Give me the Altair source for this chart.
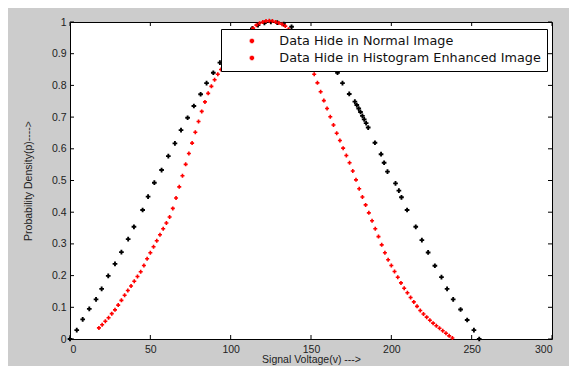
import altair as alt
import pandas as pd

SERIES = ["Data Hide in Normal Image", "Data Hide in Histogram Enhanced Image"]
X_TICKS = [0, 50, 100, 150, 200, 250, 300]
Y_TICKS = [0, 0.1, 0.2, 0.3, 0.4, 0.5, 0.6, 0.7, 0.8, 0.9, 1]

NORMAL_X = [0, 4.2, 7.9, 12, 16.2, 19.7, 23.8, 28, 32, 36.2, 39.8, 45.2, 48.6,
            52.5, 57, 61.2, 65.3, 69.1, 73.2, 77.1, 81.3, 85, 89.2, 93.3,
            97.5, 101.5, 105.5, 109.5, 113.5, 117, 121, 125, 129, 133, 137.9,
            142, 146, 150, 154, 158, 162, 166.5, 169.6, 173.8, 177.3, 178.5,
            179.7, 180.8, 182, 183.1, 184.3, 185.6, 189.8, 193.6, 195.5, 197.6,
            202.6, 204.7, 206.3, 209.8, 215.2, 219, 222.9, 227.1, 231.2, 234.7,
            238.5, 243.1, 247.2, 251.4, 254.7]
NORMAL_Y = [0, 0.028, 0.062, 0.095, 0.125, 0.158, 0.199, 0.237, 0.274, 0.315,
            0.354, 0.407, 0.449, 0.493, 0.533, 0.577, 0.617, 0.659, 0.698,
            0.735, 0.772, 0.807, 0.840, 0.872, 0.900, 0.925, 0.948, 0.966,
            0.980, 0.990, 0.997, 1.0, 0.998, 0.993, 0.985, 0.970, 0.952, 0.930,
            0.905, 0.880, 0.860, 0.840, 0.807, 0.773, 0.749, 0.738, 0.727,
            0.716, 0.704, 0.693, 0.681, 0.667, 0.619, 0.583, 0.556, 0.528,
            0.491, 0.468, 0.447, 0.407, 0.354, 0.312, 0.273, 0.231, 0.195,
            0.158, 0.125, 0.093, 0.060, 0.028, 0.0]

ENH_X = [18, 20, 22, 24, 26, 28, 30, 32, 34, 36, 38, 40, 42, 44, 46, 48, 50,
         52, 54, 56, 58, 60, 62, 64, 66, 68, 70, 72, 74, 76, 78, 80, 82, 84,
         86, 88, 90, 92, 94, 96, 98, 100, 102, 104, 106, 108, 110, 112, 114,
         116, 118, 120, 122, 124, 126, 128, 130, 132, 134, 136, 138, 140, 142,
         144, 146, 148, 150, 152, 154, 156, 158, 160, 162, 164, 166, 168, 170,
         172, 174, 176, 178, 180, 182, 184, 186, 188, 190, 192, 194, 196, 198,
         200, 202, 204, 206, 208, 210, 212, 214, 216, 218, 220, 222, 224, 226,
         228, 230, 232, 234, 236, 238]
ENH_Y = [0.035, 0.045, 0.056, 0.067, 0.080, 0.092, 0.107, 0.122, 0.138, 0.153,
         0.167, 0.182, 0.197, 0.212, 0.232, 0.253, 0.272, 0.291, 0.310, 0.329,
         0.348, 0.366, 0.385, 0.412, 0.445, 0.480, 0.515, 0.551, 0.585, 0.618,
         0.652, 0.686, 0.718, 0.748, 0.775, 0.797, 0.818, 0.835, 0.850, 0.862,
         0.872, 0.884, 0.897, 0.910, 0.925, 0.940, 0.955, 0.968, 0.980, 0.990,
         0.996, 1.0, 1.003, 1.004, 1.003, 1.0, 0.997, 0.993, 0.987, 0.977,
         0.963, 0.947, 0.930, 0.912, 0.893, 0.874, 0.856, 0.835, 0.808, 0.780,
         0.752, 0.727, 0.701, 0.675, 0.649, 0.626, 0.602, 0.579, 0.556, 0.530,
         0.502, 0.474, 0.448, 0.423, 0.398, 0.373, 0.348, 0.323, 0.297, 0.272,
         0.250, 0.232, 0.213, 0.195, 0.177, 0.160, 0.146, 0.131, 0.117, 0.103,
         0.090, 0.079, 0.069, 0.059, 0.050, 0.042, 0.034, 0.026, 0.018, 0.010,
         0.003]

df = pd.DataFrame({
    "v": NORMAL_X + ENH_X,
    "p": NORMAL_Y + ENH_Y,
    "series": [SERIES[0]] * len(NORMAL_X) + [SERIES[1]] * len(ENH_X),
})
xt = pd.DataFrame({"v": X_TICKS})
yt = pd.DataFrame({"p": Y_TICKS})

W, H = 482, 317
TL = 4
x_scale = alt.Scale(domain=[0, 300], nice=False, zero=False)
y_scale = alt.Scale(domain=[0, 1], nice=False, zero=False)
x_axis = alt.Axis(values=X_TICKS, title="Signal Voltage(v) --->",
                  labelPadding=5, titlePadding=0)
y_axis = alt.Axis(values=Y_TICKS, format="~g", title="Probability Density(p)---->",
                  labelPadding=4, titlePadding=18)

# colour/size scales use the data-derived (sorted) domain: Histogram..., Normal...
points = alt.Chart(df).mark_point(filled=True, color="red", opacity=1).encode(
    x=alt.X("v:Q", scale=x_scale, axis=x_axis),
    y=alt.Y("p:Q", scale=y_scale, axis=y_axis),
    color=alt.Color("series:N", scale=alt.Scale(range=["red", "black"]), legend=None),
    size=alt.Size("series:N", scale=alt.Scale(range=[16, 22]), legend=None),
    shape=alt.Shape("series:N", scale=alt.Scale(domain=SERIES, range=["cross", "cross"]),
                    legend=alt.Legend(title=None, orient="none", legendX=151, legendY=7,
                                      fillColor="white", strokeColor="black",
                                      padding=5.5, labelFont="DejaVu Sans",
                                      labelFontSize=12.8, labelColor="#111",
                                      labelLimit=400,
                                      symbolSize=9, symbolOffset=19, labelOffset=21,
                                      rowPadding=3, symbolFillColor="red",
                                      symbolStrokeColor="red")),
)

bottom_ticks = alt.Chart(xt).mark_rule(color="black").encode(
    x=alt.X("v:Q", scale=x_scale, axis=x_axis), y=alt.value(H), y2=alt.value(H - TL))
top_ticks = alt.Chart(xt).mark_rule(color="black").encode(
    x=alt.X("v:Q", scale=x_scale, axis=x_axis), y=alt.value(0), y2=alt.value(TL))
left_ticks = alt.Chart(yt).mark_rule(color="black").encode(
    y=alt.Y("p:Q", scale=y_scale, axis=y_axis), x=alt.value(0), x2=alt.value(TL))
right_ticks = alt.Chart(yt).mark_rule(color="black").encode(
    y=alt.Y("p:Q", scale=y_scale, axis=y_axis), x=alt.value(W), x2=alt.value(W - TL))

chart = alt.layer(points, bottom_ticks, top_ticks, left_ticks, right_ticks).properties(
    width=W, height=H,
    background="#cccccc",
    padding={"left": 62, "top": 14, "right": 17, "bottom": 27},
    autosize=alt.AutoSizeParams(type="none"),
).configure_view(
    stroke="black", strokeWidth=1, fill="white"
).configure_axis(
    domain=False, ticks=False, grid=False,
    labelFont="Liberation Sans", labelFontSize=10.5, labelColor="#222",
    titleFont="Liberation Sans", titleFontSize=10.5, titleColor="#222",
    titleFontWeight="normal",
)

chart.save("out.html", embed_options={"renderer": "svg", "actions": False})
